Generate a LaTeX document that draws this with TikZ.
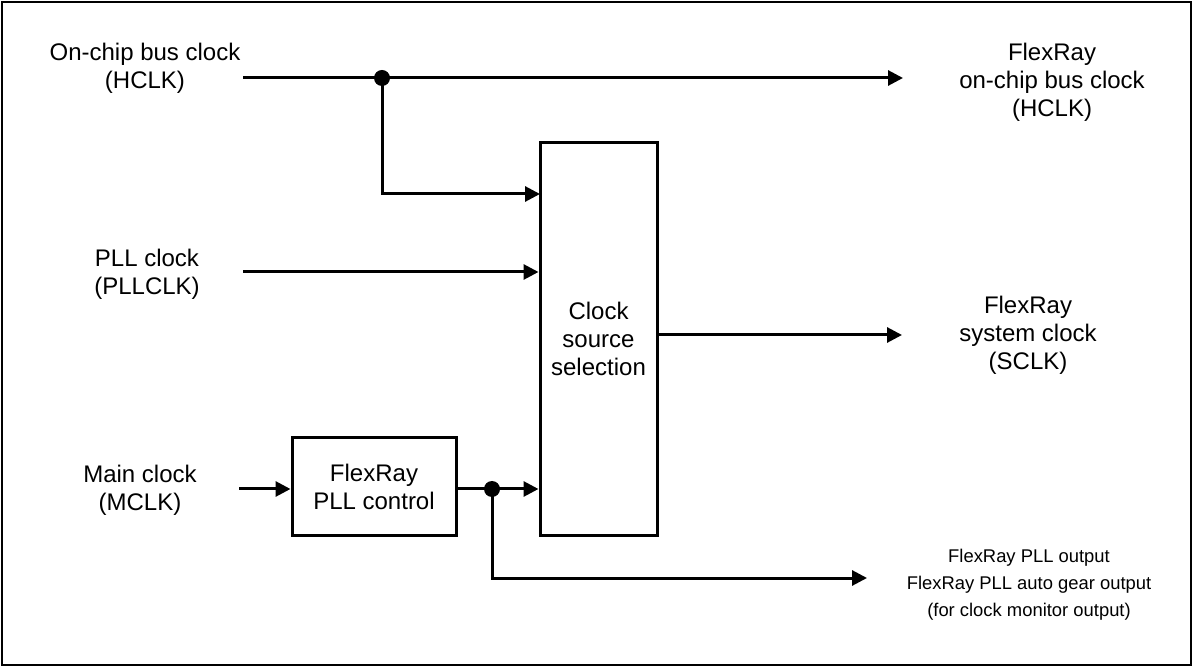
\documentclass[tikz,border=0pt]{standalone}
\usepackage{fontspec}
\setmainfont{Liberation Sans}
\usetikzlibrary{arrows.meta}

\tikzset{
  wire/.style={line width=1.5pt},
  sig/.style={wire,-{Triangle[length=7.5pt,width=7.5pt]}},
  blockbox/.style={draw,line width=1.5pt,align=center,inner sep=0pt},
  lbl/.style={align=center,font=\fontsize{12}{14}\selectfont},
  note/.style={align=center,font=\fontsize{9.2}{13.5}\selectfont},
  dot/.style={circle,fill,inner sep=0pt,minimum size=8pt}
}

\begin{document}
\begin{tikzpicture}[x=0.5pt,y=-0.5pt]
  \useasboundingbox (0,0) rectangle (1193,667);
  \draw[line width=1pt] (2,2) rectangle (1191,665);

  % inputs
  \node[lbl] (hclk) at (145,68) {On-chip bus clock\\(HCLK)};
  \node[lbl] (pllclk) at (147,274) {PLL clock\\(PLLCLK)};
  \node[lbl] (mclk) at (140,490) {Main clock\\(MCLK)};

  % blocks
  \node[blockbox,lbl,minimum width=58.5pt,minimum height=196pt] (sel) at (598.5,339) {Clock\\source\\selection};
  \node[blockbox,lbl,minimum width=82pt,minimum height=48.5pt] (pll) at (374,486.5) {FlexRay\\PLL control};

  % outputs
  \node[lbl] (fhclk) at (1052,82) {FlexRay\\on-chip bus clock\\(HCLK)};
  \node[lbl] (fsclk) at (1028,335) {FlexRay\\system clock\\(SCLK)};
  \node[note] (fmon) at (1029,585) {FlexRay PLL output\\FlexRay PLL auto gear output\\(for clock monitor output)};

  % wire ends and branch points
  \coordinate (hin) at (243,78);
  \coordinate (hout) at (903,78);
  \coordinate (hj) at (382,78);
  \coordinate (hsel) at (540,194);
  \coordinate (pin) at (243,272);
  \coordinate (min) at (239,489);
  \coordinate (pj) at (492,489);
  \coordinate (sout) at (902,335);
  \coordinate (mout) at (867,578);

  % connections
  \draw[wire] (hin) -- (hj);
  \draw[sig] (hj) -- (hout);
  \draw[sig] (hj) |- (hsel);
  \draw[sig] (pin) -- (pin -| sel.west);
  \draw[sig] (min) -- (min -| pll.west);
  \draw[wire] (pll.east |- pj) -- (pj);
  \draw[sig] (pj) -- (pj -| sel.west);
  \draw[sig] (pj) |- (mout);
  \draw[sig] (sel.east |- sout) -- (sout);
  \node[dot] at (hj) {};
  \node[dot] at (pj) {};
\end{tikzpicture}
\end{document}
